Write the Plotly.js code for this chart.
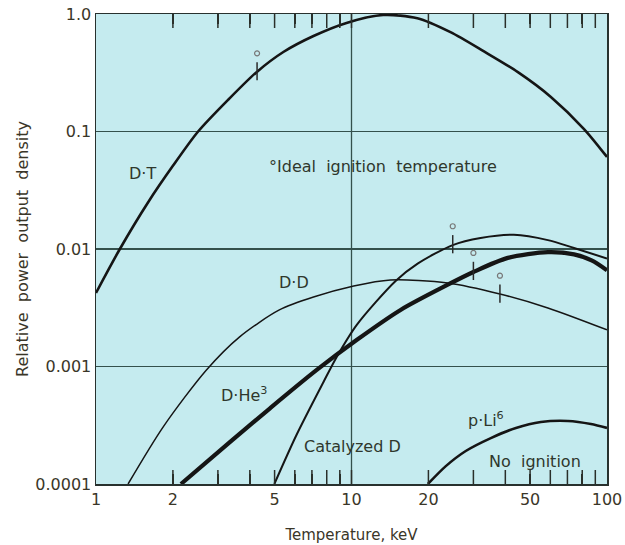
<!DOCTYPE html>
<html>
<head>
<meta charset="utf-8">
<script src="https://cdn.plot.ly/plotly-3.0.1.min.js"></script>
<style>html,body{margin:0;padding:0;background:#fff;}#chart{width:625px;height:545px;}</style>
</head>
<body>
<div id="chart"></div>
<script>
// Temperature (keV) and relative power output density
const dtT = [1, 1.24, 1.6, 2.0, 2.51, 3.32, 4.25, 5.41, 7.1, 9.56, 13.3, 18.1, 24.4, 33, 44.8, 60.3, 81.3, 100];
const dtP = [0.00423, 0.01, 0.025, 0.051, 0.1, 0.19, 0.32, 0.475, 0.65, 0.84, 0.98, 0.92, 0.70, 0.48, 0.32, 0.197, 0.105, 0.0607];

const ddT = [1.335, 1.83, 2.70, 3.64, 5.22, 7.10, 10.2, 14.2, 23.8, 38.1, 58.7, 100];
const ddP = [0.0001, 0.000305, 0.00093, 0.00178, 0.00303, 0.0039, 0.00484, 0.00545, 0.00514, 0.00414, 0.00315, 0.00205];

const dheT = [2.15, 3.35, 4.81, 7.29, 10.47, 15.56, 23.7, 30.0, 40.9, 58.7, 74.3, 87, 100];
const dheP = [0.0001, 0.000228, 0.000443, 0.00093, 0.00168, 0.00303, 0.00494, 0.00637, 0.0084, 0.0094, 0.0090, 0.0080, 0.0066];

const catT = [4.99, 6.09, 7.77, 8.74, 10.47, 14.88, 18.15, 24.9, 32.0, 43.2, 58.7, 74.3, 100];
const catP = [0.0001, 0.000261, 0.000738, 0.0012, 0.00225, 0.00534, 0.0075, 0.0108, 0.0124, 0.0132, 0.0119, 0.0102, 0.0083];

const pliT = [19.9, 23.4, 28.0, 35.1, 44.0, 55.1, 70.3, 86.5, 100];
const pliP = [0.0001, 0.000142, 0.000191, 0.000246, 0.0003, 0.000337, 0.000344, 0.000324, 0.0003];

// Ideal ignition temperatures (D-T, Catalyzed D, D-He3, D-D)
const ignT = [4.27, 24.9, 30.0, 38.1];
const ignP = [0.32, 0.0108, 0.0064, 0.0041];

// Axis ticks
const xTickVals = [1,2,3,4,5,6,7,8,9,10,20,30,40,50,60,70,80,90,100];
const xTickText = ['1','2','','','5','','','','','10','20','','','50','','','','','100'];
const xGridVals = [10];
const yTickVals = [1, 0.1, 0.01, 0.001, 0.0001];
const yTickText = ['1.0', '0.1', '0.01', '0.001', '0.0001'];
const yEdges = [0.0001, 1];

const labels = [
  {text: 'D·T', x: 1.525, y: 0.0443},
  {text: '°Ideal\u00a0 ignition\u00a0 temperature', x: 13.3, y: 0.0508},
  {text: 'D·D', x: 5.97, y: 0.00514},
  {text: 'D·He<sup>3</sup>', x: 3.80, y: 0.000583},
  {text: 'Catalyzed D', x: 10.1, y: 0.00021},
  {text: 'p·Li<sup>6</sup>', x: 33.5, y: 0.000357},
  {text: 'No\u00a0 ignition', x: 52.2, y: 0.000154}
];

const lineCol = '#151515';
const textCol = '#2f372c';
const gridCol = '#34504c';
const tickCol = '#2a2f2a';
const font = 'DejaVu Sans, sans-serif';

const tickX = [], tickY = [];
for (let i = 0; i < ignT.length; i++) {
  tickX.push(ignT[i], ignT[i], null);
  tickY.push(ignP[i] * Math.pow(10, 0.085), ignP[i] * Math.pow(10, -0.07), null);
}
const circY = ignP.map(p => p * Math.pow(10, 0.16));

// inner tick marks on bottom and top frame edges (clipped to the plot area, so only the inside half shows)
const frameTicks = xTickVals.filter(v => v !== 1 && v !== 100);
const ftX = [], ftY = [];
yEdges.forEach(e => frameTicks.forEach(v => { ftX.push(v); ftY.push(e); }));

const sm = 0.8;
const traces = [
  {x: dtT, y: dtP, mode: 'lines', line: {color: lineCol, width: 2.6, shape: 'spline', smoothing: sm}, name: 'D-T'},
  {x: ddT, y: ddP, mode: 'lines', line: {color: lineCol, width: 1.5, shape: 'spline', smoothing: sm}, name: 'D-D'},
  {x: dheT, y: dheP, mode: 'lines', line: {color: lineCol, width: 4.2, shape: 'spline', smoothing: sm}, name: 'D-He3'},
  {x: catT, y: catP, mode: 'lines', line: {color: lineCol, width: 2.0, shape: 'spline', smoothing: sm}, name: 'Catalyzed D'},
  {x: pliT, y: pliP, mode: 'lines', line: {color: lineCol, width: 2.6, shape: 'spline', smoothing: sm}, name: 'p-Li6'},
  {x: tickX, y: tickY, mode: 'lines', line: {color: '#2a2a2a', width: 1.5}, name: 'ignition'},
  {x: ignT, y: circY, mode: 'markers', marker: {symbol: 'circle-open', size: 5, color: '#777777', line: {width: 1.2, color: '#777777'}}, name: 'ignition pt'},
  {x: ftX, y: ftY, mode: 'markers', cliponaxis: true, marker: {symbol: 'line-ns-open', size: 20, color: tickCol, line: {width: 1.5, color: tickCol}}, name: 'frame ticks', hoverinfo: 'skip'}
];

const layout = {
  width: 625, height: 545,
  margin: {l: 96, r: 18, t: 14, b: 61},
  paper_bgcolor: '#ffffff',
  plot_bgcolor: '#c5ebef',
  showlegend: false,
  font: {family: font, color: textCol},
  xaxis: {
    type: 'log', range: [0, 2], autorange: false,
    tickmode: 'array', tickvals: xTickVals, ticktext: xTickText,
    ticks: 'inside', ticklen: 10, tickwidth: 1.5, tickcolor: tickCol,
    showline: true, linecolor: '#28312e', linewidth: 1.5, mirror: 'ticks',
    showgrid: false, zeroline: false,
    tickfont: {family: font, size: 16, color: '#3a3628'},
    title: {text: 'Temperature, keV', font: {family: font, size: 15, color: '#3a3628'}, standoff: 22}
  },
  yaxis: {
    type: 'log', range: [-4, 0], autorange: false,
    tickmode: 'array', tickvals: yTickVals, ticktext: yTickText,
    ticks: '', showgrid: true, gridcolor: gridCol, gridwidth: 1.3,
    showline: true, linecolor: '#28312e', linewidth: 1.5, mirror: true, zeroline: false,
    tickfont: {family: font, size: 16, color: '#3a3628'},
    title: {text: 'Relative\u00a0 power\u00a0 output\u00a0 density', font: {family: font, size: 16, color: '#3a3628'}, standoff: 2}
  },
  // vertical grid line at 10 keV (shape x is in data units on this log axis)
  shapes: xGridVals.map(v => ({
    type: 'line', xref: 'x', yref: 'paper', x0: v, x1: v, y0: 0, y1: 1,
    line: {color: gridCol, width: 1.3}, layer: 'below'
  })),
  annotations: labels.map(l => ({
    text: l.text, x: Math.log10(l.x), y: Math.log10(l.y), xref: 'x', yref: 'y',
    showarrow: false, xanchor: 'center', yanchor: 'middle',
    font: {family: font, size: 16, color: textCol}
  }))
};

Plotly.newPlot('chart', traces, layout, {staticPlot: true, displayModeBar: false});
</script>
</body>
</html>
